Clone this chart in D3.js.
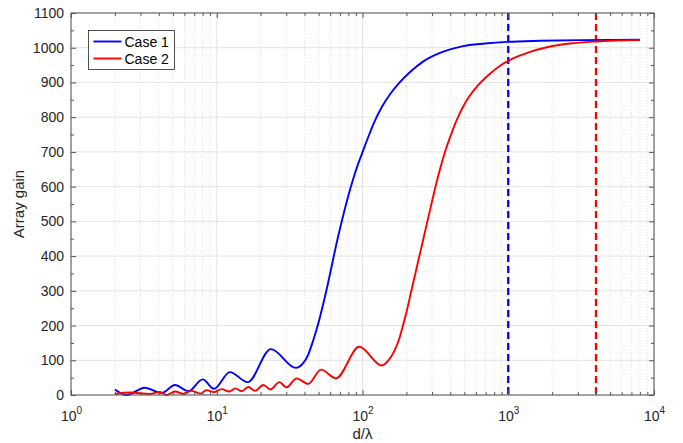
<!DOCTYPE html>
<html><head><meta charset="utf-8">
<script src="https://cdn.jsdelivr.net/npm/d3@7"></script>
<style>
body{margin:0;background:#fff}
text{font-family:"Liberation Sans",Arial,Helvetica,sans-serif}
</style>
</head><body>
<svg id="chart" width="683" height="443"></svg>
<script>
// ---------- data ----------
const xTickValues = [1, 10, 100, 1000, 10000];
const xTickExponents = ["0", "1", "2", "3", "4"];
const yTickValues = [0, 100, 200, 300, 400, 500, 600, 700, 800, 900, 1000, 1100];
const seriesNames = ["Case 1", "Case 2"];
const seriesColors = ["#0000ff", "#ff0000"];
const markerPositions = [1000, 4000];

const case1X = [2, 2.41, 3.2, 4.19, 5.17, 6.38, 8.01, 9.57, 12.3, 16.3, 23.5, 35, 38.5, 42.3, 45.7, 49.5, 53.6, 58, 62.8, 67.9, 73.5, 79.5, 86, 93.1, 100.8, 110.7, 121.8, 136, 154.5, 178, 212, 260, 340, 482, 692, 996, 1652, 3105, 8000];
const case1Y = [16, 0, 21, 6, 29, 11, 45, 18, 66, 37, 132, 78, 88, 115, 155, 203, 260, 322, 390, 455, 515, 570, 620, 664, 703, 748, 790, 830, 866, 898, 930, 960, 985, 1004, 1012, 1017, 1020, 1022, 1023];

const case2X = [2, 2.54, 3.48, 4.08, 4.5, 5.17, 5.9, 6.7, 7.7, 8.5, 9.57, 10.8, 12.2, 13.4, 14.8, 16.5, 18.3, 20.9, 23.3, 26.9, 30.1, 35.3, 42.4, 51.9, 65.8, 95, 135.5, 149.6, 164.5, 178, 189.5, 202, 215, 229, 244, 260, 277, 295, 314, 340, 368, 405, 452, 513, 601, 726, 878, 1061, 1366, 1875, 2653, 4000, 8000];
const case2Y = [3, 7, 3, 9, 0, 10, 3, 12, 4, 14, 8, 17, 10, 19, 11, 23, 12, 29, 16, 37, 22, 48, 32, 73, 48, 139, 85, 98, 125, 160, 200, 245, 295, 345, 395, 445, 495, 545, 593, 650, 700, 750, 800, 845, 885, 920, 948, 968, 986, 1002, 1012, 1018, 1022];

// ---------- layout ----------
const W = 683, H = 443;
const m = {left: 71, right: 29, top: 13, bottom: 48};
const pw = W - m.left - m.right, ph = H - m.top - m.bottom;

const svg = d3.select("#chart");
const g = svg.append("g").attr("transform", `translate(${m.left},${m.top})`);

const x = d3.scaleLog().domain([1, 10000]).range([0, pw]);
const y = d3.scaleLinear().domain([0, 1100]).range([ph, 0]);

// minor tick positions
const xMinor = [];
for (let e = 0; e < 4; e++) for (let k = 2; k <= 9; k++) xMinor.push(k * Math.pow(10, e));
const yMinor = [];
for (let v = 50; v < 1100; v += 100) yMinor.push(v);

g.append("rect").attr("width", pw).attr("height", ph).attr("fill", "#fff");

// minor x grid (dotted)
g.append("g").selectAll("line").data(xMinor).join("line")
  .attr("x1", d => x(d)).attr("x2", d => x(d)).attr("y1", 0).attr("y2", ph)
  .attr("stroke", "#d4d4d4").attr("stroke-width", 0.8).attr("stroke-dasharray", "1,2");
// major grid
g.append("g").selectAll("line").data(xTickValues).join("line")
  .attr("x1", d => x(d)).attr("x2", d => x(d)).attr("y1", 0).attr("y2", ph)
  .attr("stroke", "#e3e3e3").attr("stroke-width", 1);
g.append("g").selectAll("line").data(yTickValues).join("line")
  .attr("x1", 0).attr("x2", pw).attr("y1", d => y(d)).attr("y2", d => y(d))
  .attr("stroke", "#e3e3e3").attr("stroke-width", 1);

// dashed markers
g.append("g").selectAll("line").data(markerPositions).join("line")
  .attr("x1", d => x(d)).attr("x2", d => x(d)).attr("y1", 0).attr("y2", ph)
  .attr("stroke", (d, i) => seriesColors[i]).attr("stroke-width", 2.3)
  .attr("stroke-dasharray", "7,4");

// curves
const line = d3.line().x(d => x(d[0])).y(d => y(d[1])).curve(d3.curveMonotoneX);
const series = [d3.zip(case1X, case1Y), d3.zip(case2X, case2Y)];
g.append("g").selectAll("path").data(series).join("path")
  .attr("d", line).attr("fill", "none")
  .attr("stroke", (d, i) => seriesColors[i]).attr("stroke-width", 1.9)
  .attr("stroke-linejoin", "round");

// axes
const axisColor = "#555";
function styleAxis(sel) {
  sel.select(".domain").remove();
  sel.selectAll(".tick line").attr("stroke", axisColor).attr("stroke-width", 1);
  sel.selectAll("text").attr("fill", "#262626");
}
const xb = g.append("g").attr("transform", `translate(0,${ph})`)
  .call(d3.axisBottom(x).tickValues(xTickValues).tickSize(-5).tickFormat(() => ""));
styleAxis(xb);
xb.selectAll(".tick text").each(function(d, i) {
  const t = d3.select(this).attr("font-size", 14).attr("y", 26).attr("dy", null).attr("text-anchor", "middle");
  t.append("tspan").text("10");
  t.append("tspan").attr("font-size", 10).attr("dy", -7).text(xTickExponents[i]);
});
g.append("g").attr("transform", `translate(0,${ph})`)
  .call(d3.axisBottom(x).tickValues(xMinor).tickSize(-3).tickFormat(""))
  .call(styleAxis);
g.append("g").call(d3.axisTop(x).tickValues(xTickValues).tickSize(-5).tickFormat("")).call(styleAxis);
g.append("g").call(d3.axisTop(x).tickValues(xMinor).tickSize(-3).tickFormat("")).call(styleAxis);
const yl = g.append("g").call(d3.axisLeft(y).tickValues(yTickValues).tickSize(-5).tickFormat(d3.format("d")));
styleAxis(yl);
yl.selectAll(".tick text").attr("font-size", 14).attr("x", -7);
g.append("g").call(d3.axisLeft(y).tickValues(yMinor).tickSize(-3).tickFormat("")).call(styleAxis);
g.append("g").attr("transform", `translate(${pw},0)`)
  .call(d3.axisRight(y).tickValues(yTickValues).tickSize(-5).tickFormat("")).call(styleAxis);
g.append("g").attr("transform", `translate(${pw},0)`)
  .call(d3.axisRight(y).tickValues(yMinor).tickSize(-3).tickFormat("")).call(styleAxis);

// frame
g.append("rect").attr("width", pw).attr("height", ph).attr("fill", "none")
  .attr("stroke", axisColor).attr("stroke-width", 1);

// axis labels
svg.append("text").attr("x", m.left + pw / 2).attr("y", 439).attr("text-anchor", "middle")
  .attr("font-size", 15).attr("fill", "#262626").text("d/λ");
svg.append("text").attr("transform", `translate(24,${m.top + ph / 2}) rotate(-90)`)
  .attr("text-anchor", "middle").attr("font-size", 15).attr("fill", "#262626").text("Array gain");

// legend
const lg = svg.append("g").attr("transform", "translate(88.5,30.5)");
lg.append("rect").attr("width", 86).attr("height", 39).attr("fill", "#fff")
  .attr("stroke", "#262626").attr("stroke-width", 0.8);
seriesNames.forEach((name, i) => {
  const yy = 11 + i * 17;
  lg.append("line").attr("x1", 5).attr("x2", 33).attr("y1", yy).attr("y2", yy)
    .attr("stroke", seriesColors[i]).attr("stroke-width", 1.9);
  lg.append("text").attr("x", 36).attr("y", yy + 5).attr("font-size", 14)
    .attr("fill", "#000").text(name);
});
</script>
</body></html>
